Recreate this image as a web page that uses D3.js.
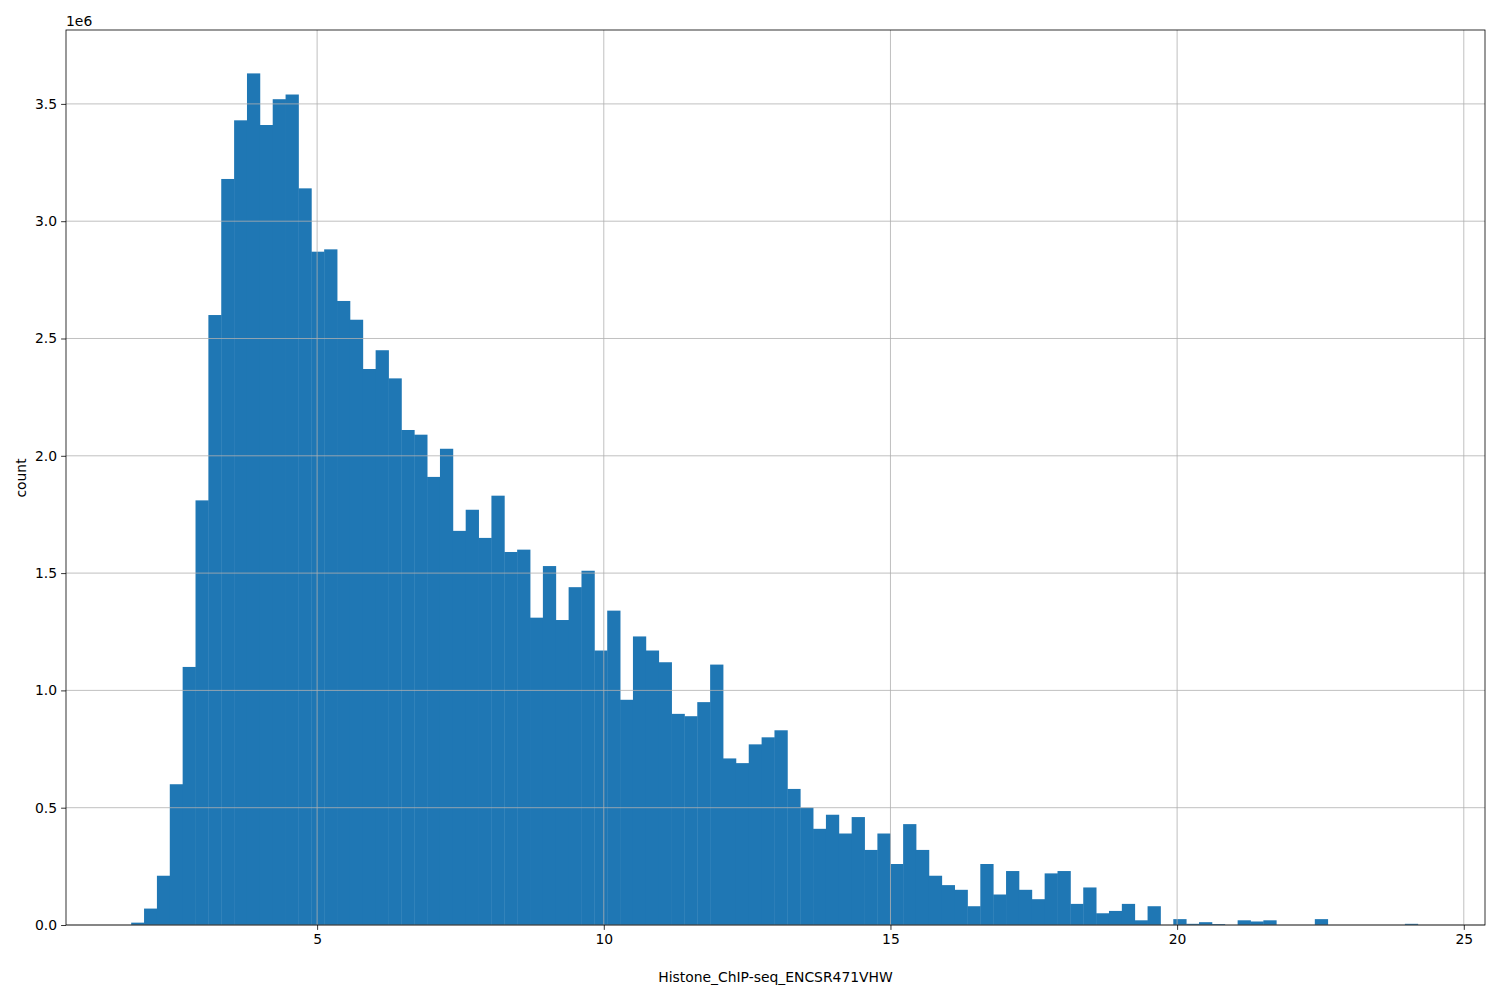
<!DOCTYPE html>
<html><head><meta charset="utf-8">
<script src="https://cdn.jsdelivr.net/npm/d3@7"></script>
<style>body{margin:0;background:#fff}text{font-family:"DejaVu Sans",sans-serif}</style>
</head><body>
<svg id="c" width="1500" height="1000"></svg>
<script>
const binStart = 1.757, binWidth = 0.2244;
const counts = [0.01,0.07,0.21,0.60,1.10,1.81,2.60,3.18,3.43,3.63,3.41,3.52,3.54,3.14,2.87,2.88,2.66,2.58,2.37,2.45,
2.33,2.11,2.09,1.91,2.03,1.68,1.77,1.65,1.83,1.59,1.60,1.31,1.53,1.30,1.44,1.51,1.17,1.34,0.96,1.23,
1.17,1.12,0.90,0.89,0.95,1.11,0.71,0.69,0.77,0.80,0.83,0.58,0.50,0.41,0.47,0.39,0.46,0.32,0.39,0.26,
0.43,0.32,0.21,0.17,0.15,0.08,0.26,0.13,0.23,0.15,0.11,0.22,0.23,0.09,0.16,0.05,0.06,0.09,0.02,0.08,
0,0.025,0.005,0.012,0.004,0,0.02,0.015,0.02,0,0,0,0.025,0,0,0,0,0,0,0.005];
const xTicks = [5,10,15,20,25];
const yTicks = [0,0.5,1.0,1.5,2.0,2.5,3.0,3.5];
const xLabel = "Histone_ChIP-seq_ENCSR471VHW", yLabel = "count";

const svg = d3.select("#c");
const L=66,R=1485,T=30,B=925;
const x = d3.scaleLinear().domain([0.62,25.37]).range([L,R]);
const y = d3.scaleLinear().domain([0,3.815]).range([B,T]);
const g = svg.append("g");
g.selectAll("rect.bar").data(counts).enter().append("rect")
 .attr("x",(d,i)=>x(binStart+i*binWidth)).attr("width",x(binWidth)-x(0)+0.4)
 .attr("y",d=>y(d)).attr("height",d=>B-y(d)).attr("fill","#1f77b4");
g.selectAll("line.gx").data(xTicks).enter().append("line")
 .attr("x1",d=>x(d)).attr("x2",d=>x(d)).attr("y1",T).attr("y2",B).attr("stroke","#b0b0b0").attr("stroke-width",0.8);
g.selectAll("line.gy").data(yTicks).enter().append("line")
 .attr("y1",d=>y(d)).attr("y2",d=>y(d)).attr("x1",L).attr("x2",R).attr("stroke","#b0b0b0").attr("stroke-width",0.8);
const ax = svg.append("g").attr("transform",`translate(0,${B})`).call(d3.axisBottom(x).tickValues(xTicks).tickSize(4.9).tickPadding(4).tickFormat(d3.format("d")));
const ay = svg.append("g").attr("transform",`translate(${L},0)`).call(d3.axisLeft(y).tickValues(yTicks).tickSize(4.9).tickPadding(4).tickFormat(d3.format(".1f")));
[ax,ay].forEach(a=>{a.select(".domain").remove();a.selectAll("text").attr("font-size",13.9).attr("fill","#000").style("font-family","DejaVu Sans");a.selectAll("line").attr("stroke","#000").attr("stroke-width",0.8);});
svg.append("rect").attr("x",L).attr("y",T).attr("width",R-L).attr("height",B-T).attr("fill","none").attr("stroke","#000").attr("stroke-width",0.8);
svg.append("text").attr("x",66).attr("y",26).attr("font-size",13.9).text("1e6");
svg.append("text").attr("x",(L+R)/2).attr("y",982).attr("text-anchor","middle").attr("font-size",13.9).text(xLabel);
svg.append("text").attr("transform","translate(26,478) rotate(-90)").attr("text-anchor","middle").attr("font-size",13.9).text(yLabel);
</script></body></html>
